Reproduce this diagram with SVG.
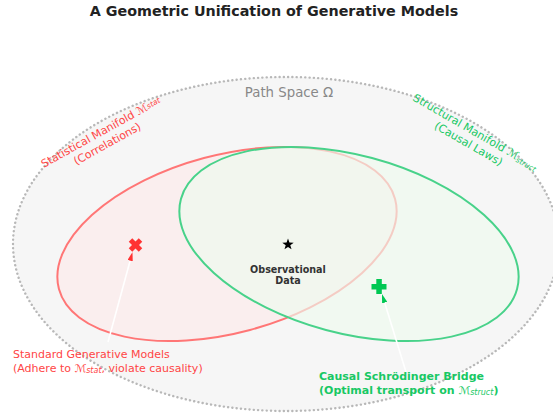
<svg xmlns="http://www.w3.org/2000/svg" width="553" height="416" viewBox="0 0 553 416">
<defs>
<style>
text{font-family:"DejaVu Sans","Liberation Sans",sans-serif}
.red{fill:#ff4545}
.grn{fill:#18c864}
.m{font-style:italic}
</style>
<marker id="hr" viewBox="0 0 10 6" refX="10" refY="3" markerWidth="9" markerHeight="5.4" markerUnits="userSpaceOnUse" orient="auto"><path d="M0,0 L10,3 L0,6 z" fill="#ff3333"/></marker>
<marker id="hg" viewBox="0 0 10 6" refX="10" refY="3" markerWidth="9" markerHeight="5.4" markerUnits="userSpaceOnUse" orient="auto"><path d="M0,0 L10,3 L0,6 z" fill="#00c853"/></marker>
</defs>
<rect width="553" height="416" fill="#ffffff"/>
<text x="274" y="16" text-anchor="middle" font-size="14.3" font-weight="bold" fill="#222">A Geometric Unification of Generative Models</text>

<g id="path-space">
<ellipse cx="286" cy="244" rx="273" ry="167" fill="#f6f6f6" stroke="#b8b8b8" stroke-width="2.4" stroke-dasharray="0.1 4.2" stroke-linecap="round"/>
<text x="289" y="97" text-anchor="middle" font-size="13.3" fill="#888">Path Space Ω</text>
</g>

<g id="stat-manifold">
<ellipse cx="227" cy="244" rx="174" ry="89" transform="rotate(-15 227 244)" fill="#faeeee" stroke="#ff7676" stroke-width="2"/>
<g transform="translate(104,138) rotate(-29)" class="red" font-size="11">
<text x="0" y="-3" text-anchor="middle">Statistical Manifold <tspan class="m">ℳ</tspan><tspan class="m" font-size="7.5" dy="-1">stat</tspan></text>
<text x="0" y="10.5" text-anchor="middle">(Correlations)</text>
</g>
</g>

<g id="struct-manifold">
<ellipse cx="349" cy="244" rx="174" ry="89" transform="rotate(15 349 244)" fill="#eefaee" fill-opacity="0.65" stroke="#48d28a" stroke-width="2"/>
<g transform="translate(472,138) rotate(30)" class="grn" font-size="11">
<text x="0" y="-3" text-anchor="middle">Structural Manifold <tspan class="m">ℳ</tspan><tspan class="m" font-size="7.5" dy="1.5">struct</tspan></text>
<text x="0" y="10.5" text-anchor="middle">(Causal Laws)</text>
</g>
</g>

<g id="observational-data">
<path d="M0,-6 L1.41,-1.94 L5.71,-1.85 L2.28,0.74 L3.53,4.85 L0,2.4 L-3.53,4.85 L-2.28,0.74 L-5.71,-1.85 L-1.41,-1.94 z" transform="translate(288,244.5)" fill="#000"/>
<text x="288" y="273" text-anchor="middle" font-size="9.6" font-weight="bold" fill="#333">Observational</text>
<text x="288" y="284" text-anchor="middle" font-size="9.6" font-weight="bold" fill="#333">Data</text>
</g>

<g id="connectors">
<line x1="108" y1="342" x2="132.5" y2="252" stroke="#ffffff" stroke-width="1.6" marker-end="url(#hr)"/>
<line x1="406" y1="372" x2="382" y2="294" stroke="#ffffff" stroke-width="1.6" marker-end="url(#hg)"/>
</g>

<g id="standard-models">
<g transform="translate(135.5,245)" stroke="#ff3333" stroke-width="5">
<line x1="-5" y1="-5" x2="5" y2="5"/>
<line x1="5" y1="-5" x2="-5" y2="5"/>
</g>
<text x="13" y="358" font-size="11" class="red">Standard Generative Models</text>
<text x="13" y="371.5" font-size="11" class="red">(Adhere to <tspan class="m">ℳ</tspan><tspan class="m" font-size="8" dy="1.5">stat</tspan><tspan dy="-1.5">, violate causality)</tspan></text>
</g>

<g id="causal-bridge">
<g fill="#00c853">
<rect x="371.5" y="284" width="15" height="5.5"/>
<rect x="376.3" y="279" width="5.5" height="15"/>
</g>
<text x="319" y="380" font-size="11" font-weight="bold" class="grn">Causal Schrödinger Bridge</text>
<text x="319" y="393.5" font-size="11" font-weight="bold" class="grn">(Optimal transport on <tspan class="m" font-weight="normal">ℳ</tspan><tspan class="m" font-weight="normal" font-size="8" dy="1.5">struct</tspan><tspan dy="-1.5">)</tspan></text>
</g>
</svg>
